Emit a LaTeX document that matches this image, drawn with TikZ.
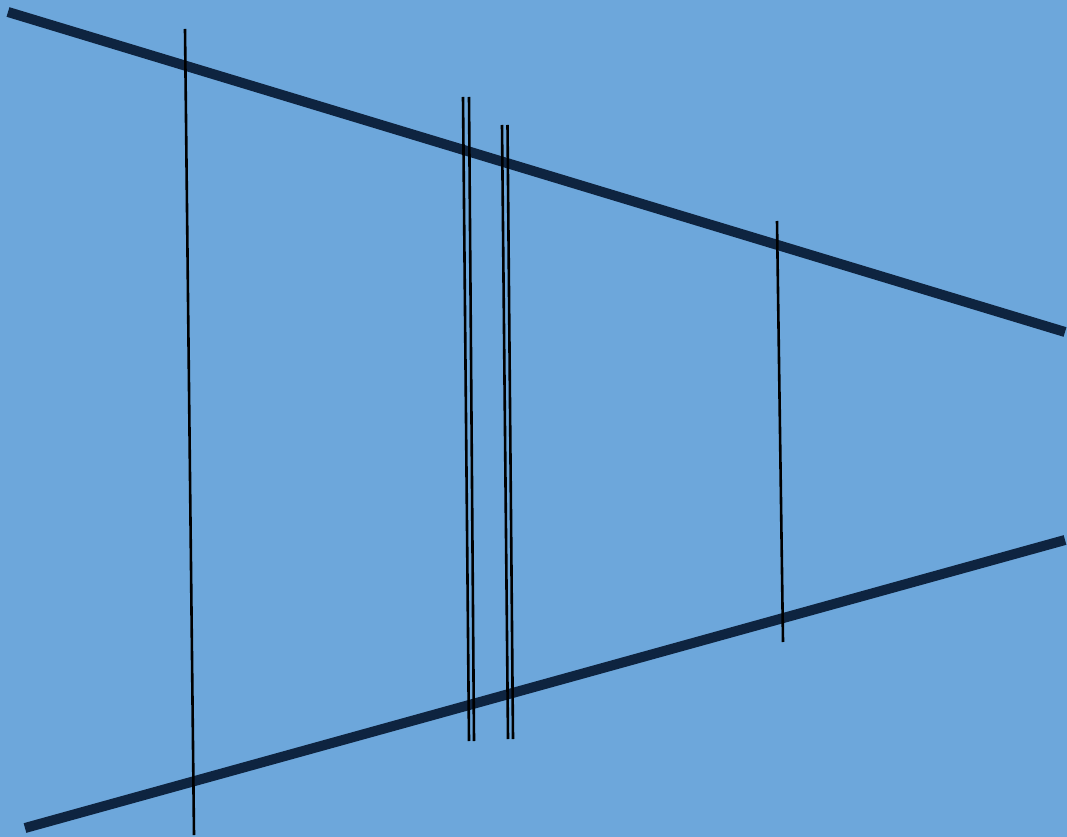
\documentclass[tikz,border=0pt]{standalone}
\usepackage{tikz}
\definecolor{skyblue}{RGB}{109,167,219}
\definecolor{navyline}{RGB}{14,36,64}
\tikzset{
    wideline/.style={draw=navyline, line width=0.2cm, line cap=butt},
    thinline/.style={draw=black, line width=0.052cm, line cap=butt}
}

\begin{document}
\begin{tikzpicture}[x=0.02cm, y=-0.02cm]
  \fill[skyblue] (0,0) rectangle (1067,837);
  \useasboundingbox (0,0) rectangle (1067,837);
  % thick lines
  \coordinate (topL) at (8,12);
  \coordinate (topR) at (1065,332);
  \coordinate (botL) at (25,828);
  \coordinate (botR) at (1065,540);
  \draw[wideline] (topL) -- (topR);
  \draw[wideline] (botL) -- (botR);
  % thin crossing lines
  \coordinate (a1) at (185,29);   \coordinate (a2) at (194,835);
  \coordinate (b1) at (463,97);   \coordinate (b2) at (469,741);
  \coordinate (c1) at (469,97);   \coordinate (c2) at (474,741);
  \coordinate (d1) at (502,125);  \coordinate (d2) at (508,739);
  \coordinate (e1) at (507.5,125);\coordinate (e2) at (513,739);
  \coordinate (f1) at (777,221);  \coordinate (f2) at (783,642);
  \foreach \p in {a,b,c,d,e,f}
    \draw[thinline] (\p1) -- (\p2);
\end{tikzpicture}
\end{document}
